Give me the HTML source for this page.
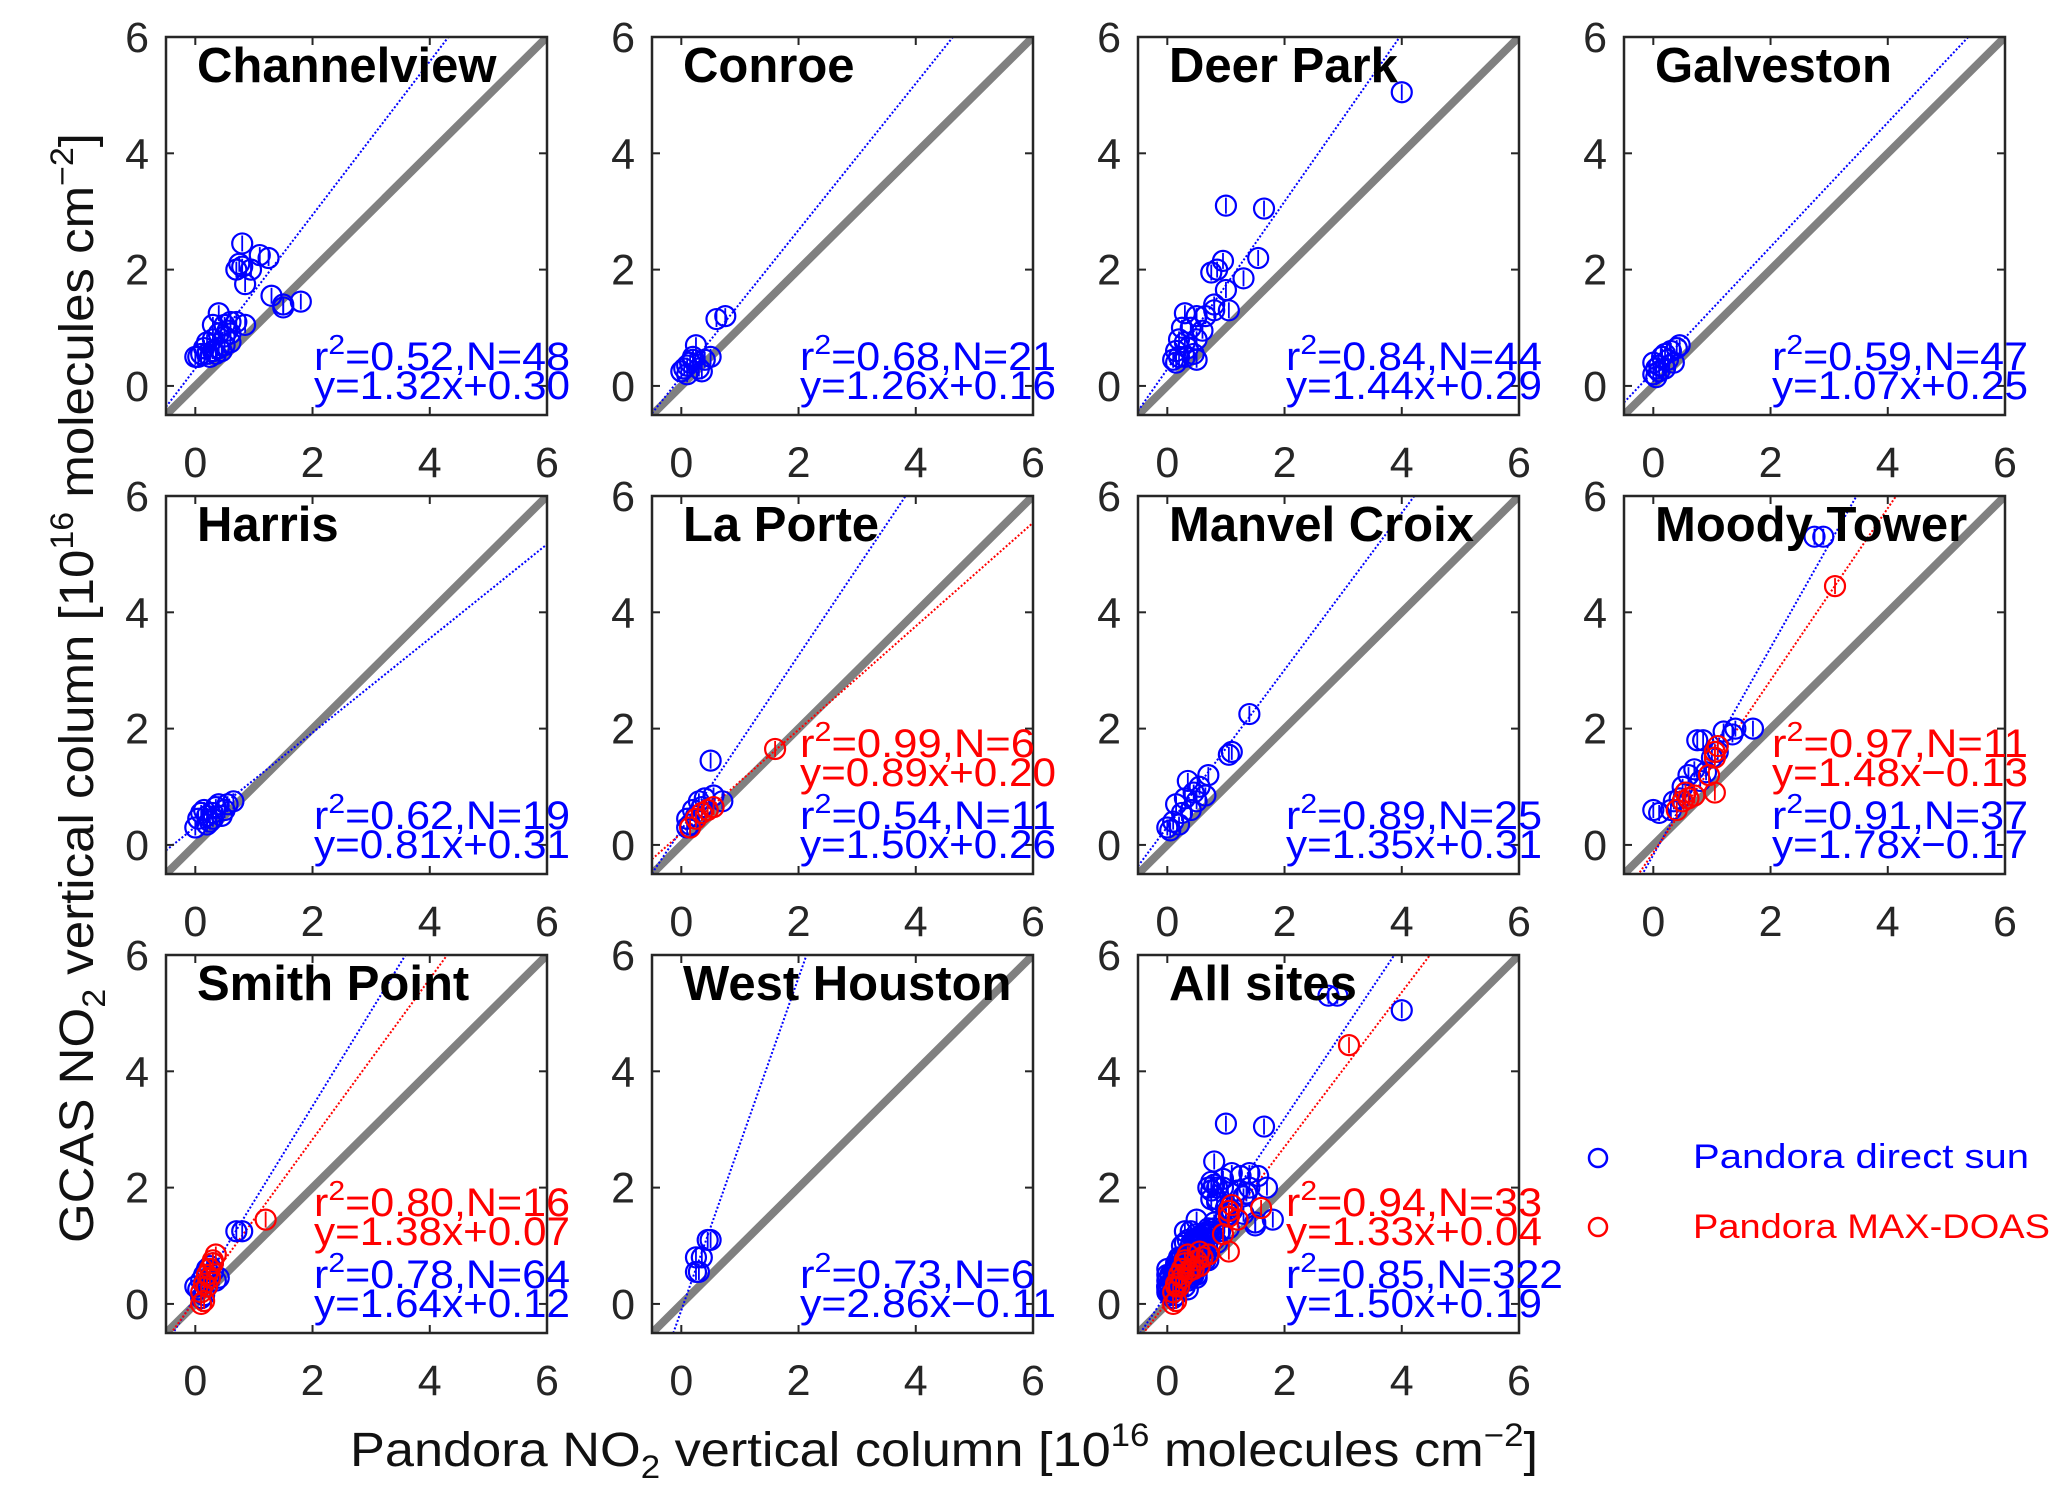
<!DOCTYPE html>
<html><head><meta charset="utf-8">
<style>
html,body{margin:0;padding:0;background:#fff;}
svg{display:block;font-family:"Liberation Sans",sans-serif;}
</style></head>
<body>
<svg id="fig" width="2067" height="1505" viewBox="0 0 2067 1505" xmlns="http://www.w3.org/2000/svg">
<rect width="2067" height="1505" fill="#fff"/>
<text transform="translate(93,688) rotate(-90)" text-anchor="middle" font-size="48" fill="#111" textLength="1110" lengthAdjust="spacingAndGlyphs">GCAS NO<tspan font-size="32" dy="12">2</tspan><tspan dy="-12"> vertical column [10</tspan><tspan font-size="32" dy="-20">16</tspan><tspan dy="20"> molecules  cm</tspan><tspan font-size="32" dy="-20">−2</tspan><tspan dy="20">]</tspan></text>
<text x="350" y="1466" font-size="48" fill="#111" textLength="1188" lengthAdjust="spacingAndGlyphs">Pandora NO<tspan font-size="32" dy="12">2</tspan><tspan dy="-12"> vertical column [10</tspan><tspan font-size="32" dy="-20">16</tspan><tspan dy="20"> molecules  cm</tspan><tspan font-size="32" dy="-20">−2</tspan><tspan dy="20">]</tspan></text>
<g>
<g><circle cx="1598" cy="1158" r="9" fill="none" stroke="#0000ff" stroke-width="2.5"/><text x="1693" y="1168" font-size="34" fill="#0000ff" textLength="336" lengthAdjust="spacingAndGlyphs">Pandora  direct sun</text></g>
<g><circle cx="1598" cy="1227" r="9" fill="none" stroke="#ff0000" stroke-width="2.5"/><text x="1693" y="1238" font-size="34" fill="#ff0000" textLength="357" lengthAdjust="spacingAndGlyphs">Pandora MAX-DOAS</text></g>
</g>
</svg>
<script>
const siteNames=["Channelview","Conroe","Deer Park","Galveston","Harris","La Porte","Manvel Croix","Moody Tower","Smith Point","West Houston","All sites"];
const xTicks=[0,2,4,6];
const yTicks=[0,2,4,6];
const blueX=[
[0.8,0.75,0.7,0.8,0.95,0.85,1.1,1.25,1.3,1.5,1.5,1.8,0.4,0.3,0.5,0.6,0.7,0.85,0.4,0.5,0.6,0.3,0.2,0.15,0.3,0.4,0.5,0.25,0.35,0.1,0,0.05,0.2,0.45,0.6,0.55],
[0,0.05,0.1,0.15,0.2,0.25,0.3,0.35,0.2,0.4,0.5,0.6,0.75,0.1],
[4.0,1.0,1.65,1.55,0.95,0.85,0.75,1.3,1.0,0.8,0.8,1.05,0.3,0.5,0.65,0.25,0.4,0.6,0.2,0.3,0.5,0.35,0.15,0.2,0.1,0.3,0.45,0.5,0.15],
[0,0.05,0.1,0,0.15,0.2,0.3,0.4,0.45,0.2,0.1,0.25,0.35,0.05],
[0,0.05,0.1,0.15,0.2,0.25,0.3,0.35,0.4,0.45,0.5,0.55,0.65,0.2,0.3],
[0.1,0.15,0.2,0.3,0.4,0.55,0.7,0.5,0.25,0.35,0.1],
[0,0.05,0.1,0.15,0.25,0.3,0.35,0.45,0.5,0.55,0.65,0.7,1.05,1.1,1.4,0.2,0.4],
[2.75,2.9,0,0.1,0.35,0.5,0.6,0.7,0.75,0.85,0.9,1.0,1.1,1.2,1.35,1.4,1.7,0.45,0.55,0.8,0.3],
[0.7,0.8,0,0.05,0.1,0.15,0.2,0.25,0.3,0.35,0.4,0.15,0.1,0.2,0.3],
[0.25,0.3,0.25,0.35,0.45,0.5],
null];
const blueY=[
[2.45,2.1,2.0,2.05,2.0,1.75,2.25,2.2,1.55,1.4,1.35,1.45,1.25,1.05,1.05,1.1,1.1,1.05,0.9,0.85,0.9,0.8,0.75,0.65,0.6,0.65,0.7,0.5,0.55,0.55,0.5,0.5,0.55,0.6,0.75,0.95],
[0.25,0.3,0.35,0.4,0.45,0.7,0.3,0.25,0.5,0.45,0.5,1.15,1.2,0.2],
[5.05,3.1,3.05,2.2,2.15,2.0,1.95,1.85,1.65,1.4,1.3,1.3,1.25,1.2,1.2,1.0,1.0,0.95,0.8,0.75,0.8,0.65,0.6,0.5,0.45,0.5,0.55,0.45,0.4],
[0.2,0.3,0.35,0.4,0.5,0.55,0.6,0.65,0.7,0.3,0.25,0.45,0.4,0.15],
[0.3,0.45,0.55,0.6,0.5,0.4,0.55,0.65,0.7,0.5,0.6,0.7,0.75,0.35,0.45],
[0.45,0.35,0.6,0.75,0.8,0.85,0.75,1.45,0.5,0.65,0.3],
[0.3,0.25,0.4,0.7,0.55,0.8,1.1,0.9,0.75,1.0,0.85,1.2,1.55,1.6,2.25,0.35,0.6],
[5.3,5.3,0.6,0.55,0.75,1.0,1.2,1.3,1.8,1.8,1.25,1.5,1.6,1.95,1.9,2.0,2.0,0.8,0.9,1.1,0.6],
[1.25,1.25,0.3,0.25,0.4,0.5,0.6,0.65,0.55,0.4,0.45,0.15,0.1,0.3,0.7],
[0.55,0.55,0.8,0.8,1.1,1.1],
null];
const redX=[null,null,null,null,null,
[0.15,0.25,0.35,0.45,0.55,1.6],null,
[3.1,1.05,1.05,1.1,0.95,1.05,0.7,0.5,0.55,0.6,0.4],
[1.2,0.35,0.3,0.25,0.2,0.15,0.1,0.15,0.1,0.2,0.25,0.3],null,null];
const redY=[null,null,null,null,null,
[0.3,0.45,0.55,0.6,0.65,1.65],null,
[4.45,1.6,1.5,1.7,1.2,0.9,0.85,0.75,0.9,0.8,0.6],
[1.45,0.85,0.75,0.6,0.5,0.35,0.2,0.05,0,0.3,0.45,0.7],null,null];
const blueSlope=[1.32,1.26,1.44,1.07,0.81,1.50,1.35,1.78,1.64,2.86,1.50];
const blueInt=[0.30,0.16,0.29,0.25,0.31,0.26,0.31,-0.17,0.12,-0.11,0.19];
const blueR2=["0.52","0.68","0.84","0.59","0.62","0.54","0.89","0.91","0.78","0.73","0.85"];
const blueN=[48,21,44,47,19,11,25,37,64,6,322];
const redSlope=[null,null,null,null,null,0.89,null,1.48,1.38,null,1.33];
const redInt=[null,null,null,null,null,0.20,null,-0.13,0.07,null,0.04];
const redR2=[null,null,null,null,null,"0.99",null,"0.97","0.80",null,"0.94"];
const redN=[null,null,null,null,null,6,null,11,16,null,33];

// All sites = union of individual sites
let ax=[],ay=[],rx=[],ry=[];
for(let i=0;i<10;i++){ax=ax.concat(blueX[i]);ay=ay.concat(blueY[i]);if(redX[i]){rx=rx.concat(redX[i]);ry=ry.concat(redY[i]);}}
blueX[10]=ax;blueY[10]=ay;redX[10]=rx;redY[10]=ry;

const NS="http://www.w3.org/2000/svg";
const svg=document.getElementById('fig');
const PW=381,PH=378,DMIN=-0.5,DMAX=6;
function mk(tag,attrs,parent){const e=document.createElementNS(NS,tag);for(const k in attrs)e.setAttribute(k,attrs[k]);parent.appendChild(e);return e;}
function fmt(v){return (v<0?"−":"+")+Math.abs(v).toFixed(2);}
siteNames.forEach((name,i)=>{
  const col=i%4,row=Math.floor(i/4);
  const L=166+col*486,T=37+row*459;
  const sx=v=>L+(v-DMIN)/(DMAX-DMIN)*PW;
  const sy=v=>T+PH-(v-DMIN)/(DMAX-DMIN)*PH;
  const g=mk('g',{},svg);
  
  
  const cid='clip'+i;
  const cp=mk('clipPath',{id:cid},g);mk('rect',{x:L,y:T,width:PW,height:PH},cp);
  const plot=mk('g',{'clip-path':'url(#'+cid+')'},g);
  const diag=mk('line',{x1:sx(DMIN),y1:sy(DMIN),x2:sx(DMAX),y2:sy(DMAX),stroke:'#808080','stroke-width':8},plot);
  
  
  function fitLine(m,b,color,nm){
    const l=mk('line',{x1:sx(DMIN),y1:sy(m*DMIN+b),x2:sx(DMAX),y2:sy(m*DMAX+b),stroke:color,'stroke-width':2,'stroke-dasharray':'2,2'},plot);
    
    
  }
  fitLine(blueSlope[i],blueInt[i],'#0000ff','fit-line-direct-sun');
  if(redSlope[i]!==null) fitLine(redSlope[i],redInt[i],'#ff0000','fit-line-max-doas');
  function pts(xs,ys,color,nm){
    xs.forEach((x,j)=>{
      const c=mk('g',{},plot);
      
      
      const px=sx(x),py=sy(ys[j]);
      mk('circle',{cx:px,cy:py,r:10,fill:'none',stroke:color,'stroke-width':2.2},c);
      mk('line',{x1:px,y1:py-8,x2:px,y2:py+8,stroke:color,'stroke-width':1.8},c);
    });
  }
  pts(blueX[i],blueY[i],'#0000ff','point-direct-sun');
  if(redX[i]) pts(redX[i],redY[i],'#ff0000','point-max-doas');
  const fr=mk('rect',{x:L,y:T,width:PW,height:PH,fill:'none',stroke:'#262626','stroke-width':2.5},g);
  
  
  xTicks.forEach(t=>{
    mk('line',{x1:sx(t),y1:T+PH,x2:sx(t),y2:T+PH-8,stroke:'#262626','stroke-width':2},g);
    mk('line',{x1:sx(t),y1:T,x2:sx(t),y2:T+8,stroke:'#262626','stroke-width':2},g);
    const tl=mk('text',{x:sx(t),y:T+PH+62,'text-anchor':'middle','font-size':43,fill:'#262626'},g);
    
    
    tl.textContent=t;
  });
  yTicks.forEach(t=>{
    mk('line',{x1:L,y1:sy(t),x2:L+8,y2:sy(t),stroke:'#262626','stroke-width':2},g);
    mk('line',{x1:L+PW,y1:sy(t),x2:L+PW-8,y2:sy(t),stroke:'#262626','stroke-width':2},g);
    const tl=mk('text',{x:L-17,y:sy(t)+15,'text-anchor':'end','font-size':43,fill:'#262626'},g);
    
    
    tl.textContent=t;
  });
  const ti=mk('text',{x:L+31,y:T+45,'font-size':49,'font-weight':'bold',fill:'#000'},g);
  
  
  ti.textContent=name;
  function stats(r2,n,m,b,color,y0,nm){
    const s=mk('g',{},g);
    
    
    const t1=mk('text',{x:L+148,y:y0,'font-size':40,fill:color,textLength:256+(String(n).length-2)*21,lengthAdjust:'spacingAndGlyphs'},s);
    t1.innerHTML='r<tspan dy="-16" font-size="28">2</tspan><tspan dy="16">='+r2+',N='+n+'</tspan>';
    const t2=mk('text',{x:L+148,y:y0+29,'font-size':40,fill:color,textLength:256,lengthAdjust:'spacingAndGlyphs'},s);
    t2.textContent='y='+m.toFixed(2)+'x'+fmt(b);
  }
  stats(blueR2[i],blueN[i],blueSlope[i],blueInt[i],'#0000ff',T+PH-45,'stats-direct-sun');
  if(redSlope[i]!==null) stats(redR2[i],redN[i],redSlope[i],redInt[i],'#ff0000',T+PH-117,'stats-max-doas');
});
</script>
</body></html>
